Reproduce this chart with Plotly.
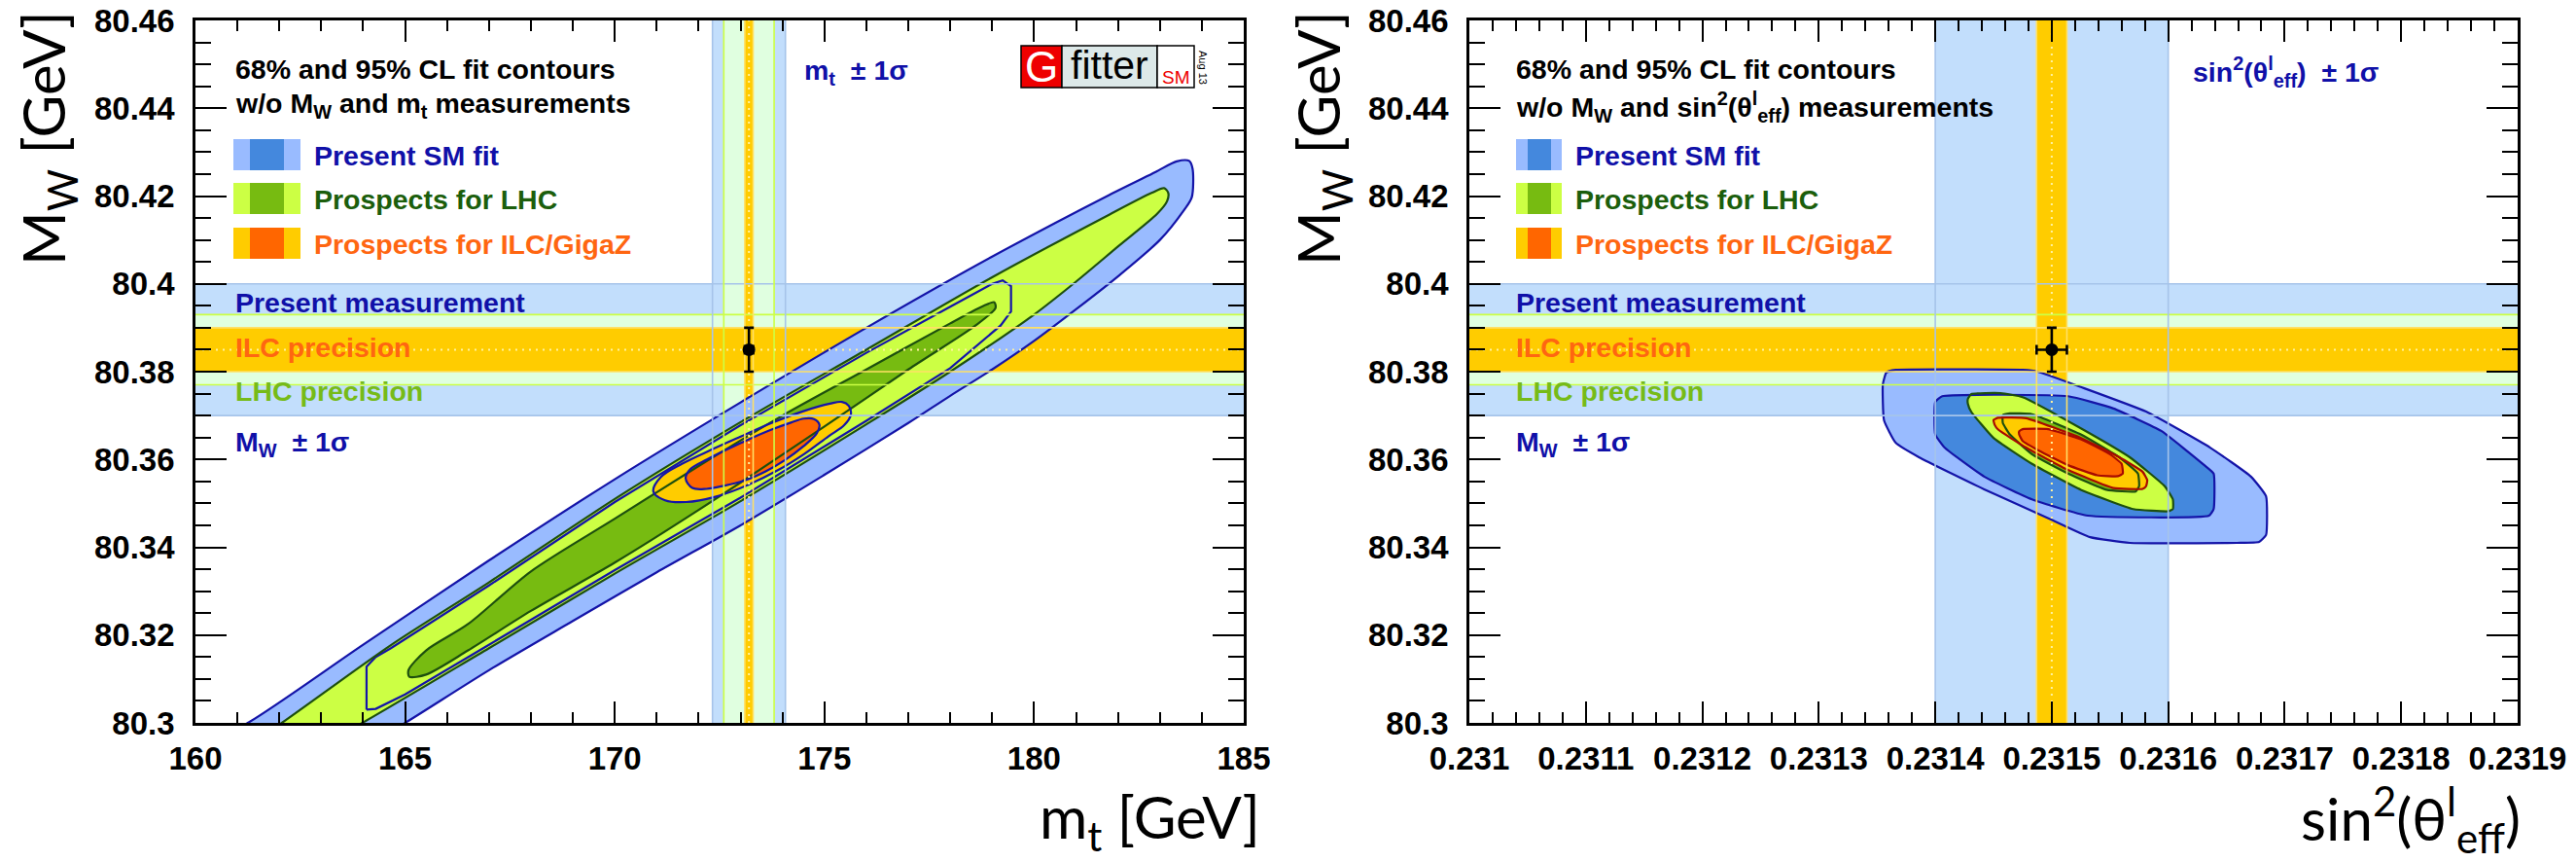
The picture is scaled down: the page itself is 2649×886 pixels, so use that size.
import plotly.graph_objects as go

FIG_W, FIG_H = 2649, 886

# ---------------------------------------------------------------- axes
MT_RANGE = [160.0, 185.0]
SW_RANGE = [0.2310, 0.2319]
MW_RANGE = [80.30, 80.46]
MT_TICKS = [160, 165, 170, 175, 180, 185]
MT_TICK_TEXT = ["160", "165", "170", "175", "180", "185"]
SW_TICKS = [0.2310, 0.2311, 0.2312, 0.2313, 0.2314, 0.2315, 0.2316, 0.2317, 0.2318, 0.2319]
SW_TICK_TEXT = ["0.231", "0.2311", "0.2312", "0.2313", "0.2314", "0.2315",
                "0.2316", "0.2317", "0.2318", "0.2319"]
MW_TICKS = [80.30, 80.32, 80.34, 80.36, 80.38, 80.40, 80.42, 80.44, 80.46]
MW_TICK_TEXT = ["80.3", "80.32", "80.34", "80.36", "80.38", "80.4", "80.42", "80.44", "80.46"]
MT_MINOR_STEP = 1.0
SW_MINOR_STEP = 0.00002
MW_MINOR_STEP = 0.005

# ---------------------------------------------------------------- measurements
MW_CENTRE = 80.385
MW_ERR_PRESENT = 0.015
MW_ERR_LHC = 0.008
MW_ERR_ILC = 0.005
MT_CENTRE = 173.2
MT_ERR_PRESENT = 0.87
MT_ERR_LHC = 0.6
MT_ERR_ILC = 0.1
SW_CENTRE = 0.23150
SW_ERR_PRESENT = 0.00010
SW_ERR_ILC = 0.000013

# ---------------------------------------------------------------- MW vs mt contours
MT_SM95_X = [160.4, 161.25, 164.0, 167.0, 170.0, 173.0, 176.0, 179.0, 181.8, 182.9, 183.4, 183.7,
             183.78, 183.76, 183.56, 183.0, 182.0, 181.0, 180.0, 179.0, 178.0, 177.0, 175.0, 173.0,
             171.0, 169.0, 167.0, 165.0, 164.2, 160.4]
MT_SM95_Y = [80.2962, 80.3000, 80.3178, 80.3370, 80.3555, 80.3730, 80.3900, 80.4062, 80.4203,
             80.4255, 80.4279, 80.4280, 80.4262, 80.4197, 80.4166, 80.4100, 80.4017, 80.3942,
             80.3870, 80.3805, 80.3745, 80.3683, 80.3565, 80.3450, 80.3343, 80.3232, 80.3120,
             80.3000, 80.2955, 80.2962]

MT_SM68_X = [164.08, 164.08, 164.3, 164.66, 167.0, 170.0, 173.0, 176.0, 178.0, 179.0, 179.25, 179.45,
             179.45, 179.2, 178.0, 176.0, 173.0, 170.0, 167.0, 165.0, 164.3, 164.08]
MT_SM68_Y = [80.3030, 80.3128, 80.3150, 80.3170, 80.3313, 80.3503, 80.3678, 80.3843, 80.3948,
             80.4000, 80.4008, 80.3995, 80.3937, 80.3905, 80.3808, 80.3688, 80.3513, 80.3348,
             80.3178, 80.3065, 80.3032, 80.3030]

MT_LHC95_X = [161.5, 162.06, 164.66, 167.0, 170.0, 173.0, 176.0, 179.0, 181.8, 182.8, 183.1, 183.2,
              183.17, 182.94, 182.0, 181.0, 180.0, 178.0, 176.0, 173.0, 170.0, 167.0, 163.98, 163.3,
              161.5]
MT_LHC95_Y = [80.2965, 80.3000, 80.3177, 80.3320, 80.3510, 80.3685, 80.3850, 80.4015, 80.4158,
              80.4207, 80.4218, 80.4207, 80.4188, 80.4160, 80.4085, 80.4005, 80.3930, 80.3800,
              80.3680, 80.3505, 80.3340, 80.3170, 80.3000, 80.2965, 80.2965]

MT_LHC68_X = [165.08, 165.5, 166.5, 168.0, 170.0, 172.0, 174.0, 176.0, 178.0, 178.8, 179.05, 179.08,
              178.6, 177.0, 175.0, 172.0, 170.0, 168.0, 166.5, 165.5, 165.1, 165.08]
MT_LHC68_Y = [80.3120, 80.3165, 80.3225, 80.3345, 80.3465, 80.3585, 80.3700, 80.3805, 80.3910,
              80.3950, 80.3958, 80.3945, 80.3905, 80.3805, 80.3675, 80.3485, 80.3365, 80.3255,
              80.3165, 80.3110, 80.3105, 80.3120]

MT_ILC95_X = [170.92, 171.10, 171.60, 172.30, 173.00, 173.74, 174.50, 175.13, 175.42, 175.58,
              175.63, 175.47, 175.10, 174.51, 173.90, 173.20, 172.40, 171.70, 171.20, 170.92]
MT_ILC95_Y = [80.3527, 80.3560, 80.3590, 80.3622, 80.3652, 80.3683, 80.3710, 80.3727, 80.3731,
              80.3722, 80.3702, 80.3678, 80.3653, 80.3612, 80.3576, 80.3543, 80.3515, 80.3503,
              80.3507, 80.3527]

MT_ILC68_X = [171.69, 171.80, 172.20, 172.66, 173.20, 173.74, 174.20, 174.51, 174.75, 174.88,
              174.82, 174.50, 174.05, 173.60, 173.12, 172.60, 172.19, 171.85, 171.69]
MT_ILC68_Y = [80.3557, 80.3578, 80.3600, 80.3622, 80.3646, 80.3668, 80.3684, 80.3693, 80.3692,
              80.3679, 80.3660, 80.3630, 80.3598, 80.3573, 80.3553, 80.3540, 80.3533, 80.3535,
              80.3557]

# ---------------------------------------------------------------- MW vs sin2(theta) contours
SW_SM95_X = [0.231355, 0.231358, 0.231366, 0.231475, 0.231488, 0.231525, 0.231581, 0.231636,
             0.231671, 0.231684, 0.231684, 0.231678, 0.231659, 0.231567, 0.231533, 0.231498,
             0.231442, 0.231386, 0.231366, 0.231356, 0.231355]
SW_SM95_Y = [80.3771, 80.3798, 80.3804, 80.3804, 80.3800, 80.3765, 80.3709, 80.3627, 80.3561,
             80.3516, 80.3428, 80.3412, 80.3410, 80.3410, 80.3423, 80.3465, 80.3532, 80.3605,
             80.3638, 80.3689, 80.3771]

SW_SM68_X = [0.231400, 0.231406, 0.231514, 0.231553, 0.231594, 0.231631, 0.231639, 0.231639,
             0.231635, 0.231531, 0.231483, 0.231442, 0.231408, 0.231400, 0.231400]
SW_SM68_Y = [80.3731, 80.3744, 80.3744, 80.3716, 80.3665, 80.3587, 80.3568, 80.3487, 80.3472,
             80.3472, 80.3509, 80.3561, 80.3627, 80.3657, 80.3731]

SW_LHC95_X = [0.231428, 0.231431, 0.231456, 0.231475, 0.231525, 0.231567, 0.231597, 0.231604,
              0.231604, 0.231600, 0.231570, 0.231525, 0.231483, 0.231450, 0.231431, 0.231428,
              0.231428]
SW_LHC95_Y = [80.3738, 80.3749, 80.3751, 80.3742, 80.3671, 80.3605, 80.3539, 80.3509, 80.3487,
              80.3482, 80.3487, 80.3531, 80.3590, 80.3649, 80.3708, 80.3727, 80.3738]

SW_LHC68_X = [0.231458, 0.231464, 0.231483, 0.231525, 0.231558, 0.231574, 0.231575, 0.231572,
              0.231547, 0.231514, 0.231483, 0.231464, 0.231458, 0.231458]
SW_LHC68_Y = [80.3701, 80.3705, 80.3703, 80.3657, 80.3605, 80.3568, 80.3539, 80.3527, 80.3531,
              80.3568, 80.3612, 80.3657, 80.3683, 80.3701]

SW_ILC95_X = [0.231450, 0.231454, 0.231478, 0.231525, 0.231558, 0.231578, 0.231582, 0.231581,
              0.231578, 0.231553, 0.231514, 0.231478, 0.231454, 0.231451, 0.231450]
SW_ILC95_Y = [80.3690, 80.3695, 80.3694, 80.3649, 80.3605, 80.3572, 80.3553, 80.3539, 80.3533,
              80.3535, 80.3576, 80.3627, 80.3668, 80.3679, 80.3690]

SW_ILC68_X = [0.231472, 0.231475, 0.231497, 0.231525, 0.231550, 0.231560, 0.231561, 0.231557,
              0.231539, 0.231514, 0.231489, 0.231475, 0.231472, 0.231472]
SW_ILC68_Y = [80.3664, 80.3669, 80.3669, 80.3646, 80.3612, 80.3590, 80.3568, 80.3562, 80.3564,
              80.3587, 80.3620, 80.3642, 80.3657, 80.3664]

# ---------------------------------------------------------------- styling
SM95_FILL, SM68_FILL = "#99bbff", "#4488dd"
LHC95_FILL, LHC68_FILL = "#ccff44", "#77bb11"
ILC95_FILL, ILC68_FILL = "#ffcc00", "#ff6600"
SM_LINE, LHC_LINE = "#1414a8", "#1d4f0e"
BAND_BLUE, BAND_BLUE_EDGE = "#c2defc", "#a6c4ea"
BAND_GREEN, BAND_GREEN_EDGE = "#e0ffe0", "#ccff44"
BAND_ORANGE, BAND_ORANGE_EDGE = "#ffcc00", "#ffe066"
CENTRE_DOT = "#fff2a0"
DARK_BLUE_TEXT, DARK_GREEN_TEXT = "#1010a8", "#1b5e0c"
ORANGE_TEXT, LIGHT_GREEN_TEXT = "#ff6611", "#76bb18"

BOLD_FONT = "Liberation Sans, Arial, Helvetica, sans-serif"
TITLE_FONT = "Lato, Open Sans, sans-serif"
LABEL_SIZE = 28.5
TITLE_SIZE = 60


def px(x):
    return x / FIG_W


def py(y):
    return 1 - y / FIG_H


def minor_ticks(lo, hi, step, majors):
    n = int(round((hi - lo) / step))
    vals = [round(lo + i * step, 7) for i in range(n + 1)]
    return [v for v in vals if all(abs(v - m) > step / 10 for m in majors)]


fig = go.Figure()


def add_contour(xs, ys, fill, line, xa, ya, smooth):
    shape = dict(shape="spline", smoothing=smooth) if smooth else dict(shape="linear")
    fig.add_trace(go.Scatter(x=xs, y=ys, mode="lines", fill="toself", fillcolor=fill,
                             line=dict(width=0, **shape), xaxis=xa, yaxis=ya,
                             hoverinfo="skip", showlegend=False))
    return dict(x=xs, y=ys, color=line, xa=xa, ya=ya, shape=shape)


def add_outline(c):
    fig.add_trace(go.Scatter(x=c["x"], y=c["y"], mode="lines",
                             line=dict(color=c["color"], width=2.2, **c["shape"]),
                             xaxis=c["xa"], yaxis=c["ya"], hoverinfo="skip", showlegend=False))


def add_line(xs, ys, color, xa, ya, width=1.6, dash=None):
    fig.add_trace(go.Scatter(x=xs, y=ys, mode="lines",
                             line=dict(color=color, width=width, dash=dash),
                             xaxis=xa, yaxis=ya, hoverinfo="skip", showlegend=False))


shapes = []


def hband(c, e, color, xref, yref):
    shapes.append(dict(type="rect", xref=xref + " domain", yref=yref, x0=0, x1=1,
                       y0=c - e, y1=c + e, fillcolor=color, line_width=0, layer="below"))


def vband(c, e, color, xref, yref):
    shapes.append(dict(type="rect", xref=xref, yref=yref + " domain", x0=c - e, x1=c + e,
                       y0=0, y1=1, fillcolor=color, line_width=0, layer="below"))


# bands, left panel
hband(MW_CENTRE, MW_ERR_PRESENT, BAND_BLUE, "x", "y")
vband(MT_CENTRE, MT_ERR_PRESENT, BAND_BLUE, "x", "y")
hband(MW_CENTRE, MW_ERR_LHC, BAND_GREEN, "x", "y")
vband(MT_CENTRE, MT_ERR_LHC, BAND_GREEN, "x", "y")
hband(MW_CENTRE, MW_ERR_ILC, BAND_ORANGE, "x", "y")
vband(MT_CENTRE, MT_ERR_ILC, BAND_ORANGE, "x", "y")
# bands, right panel
hband(MW_CENTRE, MW_ERR_PRESENT, BAND_BLUE, "x2", "y2")
vband(SW_CENTRE, SW_ERR_PRESENT, BAND_BLUE, "x2", "y2")
hband(MW_CENTRE, MW_ERR_LHC, BAND_GREEN, "x2", "y2")
hband(MW_CENTRE, MW_ERR_ILC, BAND_ORANGE, "x2", "y2")
vband(SW_CENTRE, SW_ERR_ILC, BAND_ORANGE, "x2", "y2")

# contours, left panel (fills first, outlines on top)
left = [
    add_contour(MT_SM95_X, MT_SM95_Y, SM95_FILL, SM_LINE, "x", "y", 0.8),
    add_contour(MT_SM68_X, MT_SM68_Y, SM68_FILL, SM_LINE, "x", "y", 0),
    add_contour(MT_LHC95_X, MT_LHC95_Y, LHC95_FILL, LHC_LINE, "x", "y", 0.8),
    add_contour(MT_LHC68_X, MT_LHC68_Y, LHC68_FILL, LHC_LINE, "x", "y", 0.8),
    add_contour(MT_ILC95_X, MT_ILC95_Y, ILC95_FILL, SM_LINE, "x", "y", 1.0),
    add_contour(MT_ILC68_X, MT_ILC68_Y, ILC68_FILL, SM_LINE, "x", "y", 1.0),
]
for c in left:
    add_outline(c)

# contours, right panel
right = [
    add_contour(SW_SM95_X, SW_SM95_Y, SM95_FILL, SM_LINE, "x2", "y2", 0.4),
    add_contour(SW_SM68_X, SW_SM68_Y, SM68_FILL, SM_LINE, "x2", "y2", 0.4),
    add_contour(SW_LHC95_X, SW_LHC95_Y, LHC95_FILL, LHC_LINE, "x2", "y2", 0.4),
    add_contour(SW_LHC68_X, SW_LHC68_Y, LHC68_FILL, LHC_LINE, "x2", "y2", 0.4),
    add_contour(SW_ILC95_X, SW_ILC95_Y, ILC95_FILL, "#a80a00", "x2", "y2", 0.4),
    add_contour(SW_ILC68_X, SW_ILC68_Y, ILC68_FILL, "#a80a00", "x2", "y2", 0.4),
]
for c in right:
    add_outline(c)

# band edges and centre lines drawn over the contours
for xa, ya, xr in (("x", "y", MT_RANGE), ("x2", "y2", SW_RANGE)):
    for e, col in ((MW_ERR_PRESENT, BAND_BLUE_EDGE), (MW_ERR_LHC, BAND_GREEN_EDGE),
                   (MW_ERR_ILC, BAND_ORANGE_EDGE)):
        for s in (-1, 1):
            add_line(xr, [MW_CENTRE + s * e] * 2, col, xa, ya)
for e, col in ((MT_ERR_PRESENT, BAND_BLUE_EDGE), (MT_ERR_LHC, BAND_GREEN_EDGE),
               (MT_ERR_ILC, BAND_ORANGE_EDGE)):
    for s in (-1, 1):
        add_line([MT_CENTRE + s * e] * 2, MW_RANGE, col, "x", "y")
for e, col in ((SW_ERR_PRESENT, BAND_BLUE_EDGE), (SW_ERR_ILC, BAND_ORANGE_EDGE)):
    for s in (-1, 1):
        add_line([SW_CENTRE + s * e] * 2, MW_RANGE, col, "x2", "y2")

add_line(MT_RANGE, [MW_CENTRE] * 2, CENTRE_DOT, "x", "y", 2, "2px,5px")
add_line([MT_CENTRE] * 2, MW_RANGE, CENTRE_DOT, "x", "y", 2, "2px,5px")
add_line(SW_RANGE, [MW_CENTRE] * 2, CENTRE_DOT, "x2", "y2", 2, "2px,5px")
add_line([SW_CENTRE] * 2, MW_RANGE, CENTRE_DOT, "x2", "y2", 2, "2px,5px")

# measured points with ILC-sized error bars
for xa, ya, xc, xe in (("x", "y", MT_CENTRE, MT_ERR_ILC), ("x2", "y2", SW_CENTRE, SW_ERR_ILC)):
    fig.add_trace(go.Scatter(
        x=[xc], y=[MW_CENTRE], mode="markers", xaxis=xa, yaxis=ya,
        marker=dict(size=13, color="black", symbol="circle"),
        error_y=dict(type="data", array=[MW_ERR_ILC], color="black", thickness=2.6, width=5),
        error_x=dict(type="data", array=[xe], color="black", thickness=2.6, width=5),
        hoverinfo="skip", showlegend=False))

# ---------------------------------------------------------------- labels, legend swatches, logo
annotations = []


def text(x, y, s, color="black", size=LABEL_SIZE, xanchor="left", family=BOLD_FONT, bold=True,
         angle=0, yanchor="middle"):
    annotations.append(dict(x=px(x), y=py(y), xref="paper", yref="paper",
                            text="<b>%s</b>" % s if bold else s, align=xanchor,
                            showarrow=False, xanchor=xanchor, yanchor=yanchor, textangle=angle,
                            borderpad=0, font=dict(family=family, size=size, color=color)))


def rect(x0, x1, y0, y1, fill, line_color=None, lw=0):
    shapes.append(dict(type="rect", xref="paper", yref="paper", x0=px(x0), x1=px(x1),
                       y0=py(y1), y1=py(y0), fillcolor=fill,
                       line=dict(color=line_color or fill, width=lw), layer="above"))


LEGEND_NAMES = ["Present SM fit", "Prospects for LHC", "Prospects for ILC/GigaZ"]
LEGEND_TEXT_COLORS = [DARK_BLUE_TEXT, DARK_GREEN_TEXT, ORANGE_TEXT]
LEGEND_LIGHT = [SM95_FILL, LHC95_FILL, ILC95_FILL]
LEGEND_DARK = [SM68_FILL, LHC68_FILL, ILC68_FILL]
ROW_Y = [(143, 175), (188, 220), (234, 266)]

for (sx0, sx1, ix0, ix1, tx, hx) in ((240, 309, 257, 292, 322, 241), (1559, 1606, 1571, 1595, 1619, 1558)):
    for (y0, y1), nm, tc, lc, dc in zip(ROW_Y, LEGEND_NAMES, LEGEND_TEXT_COLORS, LEGEND_LIGHT, LEGEND_DARK):
        rect(sx0, sx1, y0, y1, lc)
        rect(ix0, ix1, y0, y1, dc)
        text(tx, (y0 + y1) / 2 + 1, nm, tc)
    text(hx, 71, "68% and 95% CL fit contours")
    text(hx, 311, "Present measurement", DARK_BLUE_TEXT)
    text(hx, 357, "ILC precision", ORANGE_TEXT)
    text(hx, 402, "LHC precision", LIGHT_GREEN_TEXT)
    text(hx, 456, "M<sub>W</sub>  ± 1σ", DARK_BLUE_TEXT)

text(241, 108, "w/o M<sub>W</sub> and m<sub>t</sub> measurements")
text(1558, 110, "w/o M<sub>W</sub> and sin<sup>2</sup>(θ<sup>l</sup><sub>eff</sub>) measurements")
text(826, 74, "m<sub>t</sub>  ± 1σ", DARK_BLUE_TEXT)
text(2254, 74, "sin<sup>2</sup>(θ<sup>l</sup><sub>eff</sub>)  ± 1σ", DARK_BLUE_TEXT)

# Gfitter logo
rect(1050, 1092, 47, 90, "#ee0000", "black", 1.5)
rect(1092, 1190, 47, 90, "#dde9e9", "black", 1.5)
rect(1190, 1228, 47, 90, "white", "black", 1.5)
text(1071, 69, "G", "white", 44, "center", bold=False)
text(1141, 67, "fitter", "black", 41, "center", bold=False)
text(1209, 79, "SM", "#ee0000", 19, "center", bold=False)
text(1237, 69, "Aug 13", "black", 11, "center", bold=False, angle=90)

# axis titles
text(1297, 843, "m<sub>t</sub> [GeV]", "black", TITLE_SIZE, "right", TITLE_FONT, False)
text(2593, 842, "sin<sup>2</sup>(θ<sup>l</sup><sub>eff</sub>)", "black", TITLE_SIZE, "right", TITLE_FONT, False)
text(48, 10, "M<sub>W</sub> [GeV]", "black", TITLE_SIZE, "center", TITLE_FONT, False, -90, "top")
text(1359, 10, "M<sub>W</sub> [GeV]", "black", TITLE_SIZE, "center", TITLE_FONT, False, -90, "top")


def axis(domain, rng, tickvals, ticktext, minor_vals, ticklen, minor_len, anchor, standoff):
    return dict(domain=domain, range=rng, anchor=anchor, tickmode="array", tickvals=tickvals,
                ticktext=["<b>%s</b>" % t for t in ticktext], ticks="inside", ticklen=ticklen,
                tickwidth=2, tickcolor="black", showline=True, linewidth=2.6, linecolor="black",
                mirror="ticks", showgrid=False, zeroline=False, automargin=False,
                ticklabelstandoff=standoff,
                tickfont=dict(family=BOLD_FONT, size=33, color="black"),
                minor=dict(tickmode="array", tickvals=minor_vals, ticks="inside",
                           ticklen=minor_len, tickwidth=2, tickcolor="black", showgrid=False))


YDOM = [py(743), py(21)]
mt_minor = minor_ticks(MT_RANGE[0], MT_RANGE[1], MT_MINOR_STEP, MT_TICKS)
sw_minor = minor_ticks(SW_RANGE[0], SW_RANGE[1], SW_MINOR_STEP, SW_TICKS)
mw_minor = minor_ticks(MW_RANGE[0], MW_RANGE[1], MW_MINOR_STEP, MW_TICKS)

fig.update_layout(
    width=FIG_W, height=FIG_H, autosize=False,
    margin=dict(l=0, r=0, t=0, b=0, autoexpand=False),
    paper_bgcolor="white", plot_bgcolor="white",
    xaxis=axis([px(201), px(1279)], MT_RANGE, MT_TICKS, MT_TICK_TEXT, mt_minor, 22, 11, "y", 6),
    yaxis=axis(YDOM, MW_RANGE, MW_TICKS, MW_TICK_TEXT, mw_minor, 32, 16, "x", 12),
    xaxis2=axis([px(1511), px(2589)], SW_RANGE, SW_TICKS, SW_TICK_TEXT, sw_minor, 22, 11, "y2", 6),
    yaxis2=axis(YDOM, MW_RANGE, MW_TICKS, MW_TICK_TEXT, mw_minor, 32, 16, "x2", 12),
    shapes=shapes, annotations=annotations, showlegend=False,
)

fig.write_html("out.html")
